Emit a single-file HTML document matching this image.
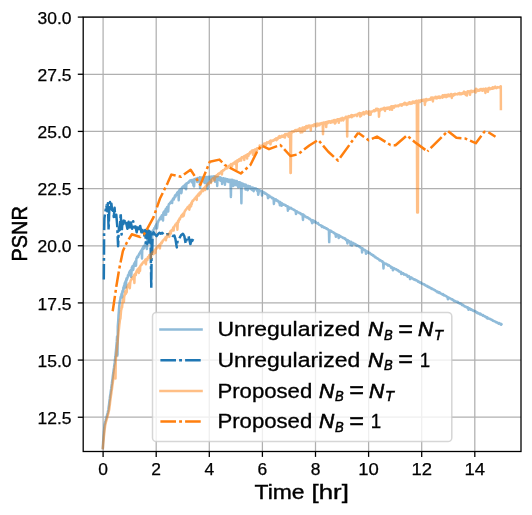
<!DOCTYPE html>
<html><head><meta charset="utf-8"><title>PSNR vs Time</title>
<style>html,body{margin:0;padding:0;background:#fff;}body{width:532px;height:515px;overflow:hidden;font-family:"Liberation Sans",sans-serif;}svg{display:block;will-change:transform;}</style></head>
<body>
<svg width="532" height="515" viewBox="0 0 532 515">
<defs><clipPath id="ax"><rect x="83.2" y="17.1" width="437.8" height="434.4"/></clipPath></defs>
<g stroke="#b0b0b0" stroke-width="1.25" fill="none">
<line x1="103.10" y1="17.1" x2="103.10" y2="451.55"/>
<line x1="156.20" y1="17.1" x2="156.20" y2="451.55"/>
<line x1="209.30" y1="17.1" x2="209.30" y2="451.55"/>
<line x1="262.40" y1="17.1" x2="262.40" y2="451.55"/>
<line x1="315.50" y1="17.1" x2="315.50" y2="451.55"/>
<line x1="368.60" y1="17.1" x2="368.60" y2="451.55"/>
<line x1="421.70" y1="17.1" x2="421.70" y2="451.55"/>
<line x1="474.80" y1="17.1" x2="474.80" y2="451.55"/>
<line x1="83.2" y1="417.24" x2="521.0" y2="417.24"/>
<line x1="83.2" y1="360.07" x2="521.0" y2="360.07"/>
<line x1="83.2" y1="302.91" x2="521.0" y2="302.91"/>
<line x1="83.2" y1="245.75" x2="521.0" y2="245.75"/>
<line x1="83.2" y1="188.59" x2="521.0" y2="188.59"/>
<line x1="83.2" y1="131.42" x2="521.0" y2="131.42"/>
<line x1="83.2" y1="74.26" x2="521.0" y2="74.26"/>
<line x1="83.2" y1="17.10" x2="521.0" y2="17.10"/>
</g>
<g clip-path="url(#ax)" fill="none" stroke-linejoin="round">
<polyline points="102.8,448.1 103.1,442.4 103.5,437.3 103.8,432.8 104.2,428.5 104.5,425.3 104.9,423.3 105.2,421.8 105.6,420.5 105.9,419.3 106.3,418.0 106.6,416.7 107.0,415.4 107.3,414.1 107.7,412.8 108.0,411.3 108.4,409.4 108.7,407.0 109.1,404.1 109.4,401.2 109.8,398.5 110.1,396.0 110.5,393.6 110.8,391.1 111.2,388.7 111.5,386.1 111.9,383.5 112.2,380.8 112.6,378.1 112.9,375.4 113.3,372.8 113.6,370.2 114.0,367.7 114.3,365.2 114.7,362.5 115.0,359.6 115.4,356.5 115.7,353.1 116.1,349.5 116.4,345.6 116.8,341.2 117.1,336.4 117.5,355.4 117.8,326.4 118.2,321.1 118.5,315.7 118.9,310.7 119.2,306.5 119.6,303.3 119.9,300.9 120.3,299.6 120.6,297.2 121.0,296.1 121.3,295.0 121.7,293.6 122.0,297.4 122.4,291.2 122.7,290.6 123.1,291.7 123.4,287.4 123.8,288.8 124.1,285.6 124.5,284.3 124.8,283.0 125.2,282.2 125.5,281.3 125.9,287.5 126.2,279.9 126.6,278.4 126.9,279.7 127.3,277.7 127.6,277.9 128.0,275.3 128.3,275.1 128.7,275.4 129.0,273.2 129.4,272.2 129.7,271.5 130.1,270.8 130.4,270.8 130.8,270.0 131.1,276.9 131.5,273.0 131.8,267.7 132.2,267.1 132.5,266.3 132.9,266.0 133.2,269.9 133.6,266.6 133.9,264.3 134.3,265.8 134.6,262.9 135.0,263.4 135.3,261.5 135.7,262.1 136.0,265.8 136.4,258.7 136.7,258.4 137.1,257.2 137.4,256.5 137.8,256.9 138.1,257.0 138.5,255.2 138.8,255.1 139.2,253.9 139.5,253.3 139.9,252.9 140.2,252.4 140.6,251.7 140.9,251.1 141.3,250.8 141.6,250.1 142.0,258.4 142.3,248.8 142.7,248.2 143.0,247.4 143.4,248.9 143.7,246.2 144.1,248.0 144.4,245.8 144.8,246.0 145.1,243.8 145.5,245.3 145.8,242.3 146.2,241.9 146.5,242.2 146.9,249.0 147.2,240.6 147.6,243.1 147.9,239.4 148.3,238.4 148.6,238.3 149.0,237.5 149.3,242.3 149.7,236.7 150.0,236.1 150.4,235.2 150.7,234.5 151.1,233.9 151.4,234.3 151.8,233.0 152.1,238.1 152.5,231.4 152.8,230.6 153.2,231.7 153.5,230.1 153.9,229.2 154.2,228.2 154.6,227.9 154.9,228.4 155.3,226.2 155.6,226.2 156.0,225.1 156.3,224.6 156.7,223.9 157.0,228.4 157.4,225.4 157.7,222.1 158.1,222.1 158.4,220.9 158.8,220.3 159.1,220.0 159.5,219.7 159.8,218.4 160.2,218.1 160.5,217.4 160.9,218.9 161.2,216.6 161.6,216.8 161.9,215.3 162.3,219.4 162.6,217.1 163.0,220.6 163.3,213.0 163.7,212.2 164.0,211.6 164.4,211.7 164.7,214.0 165.1,210.4 165.4,214.8 165.8,209.1 166.1,214.7 166.5,208.3 166.8,208.2 167.2,207.0 167.5,209.7 167.9,211.4 168.2,211.4 168.6,205.1 168.9,204.3 169.3,203.7 169.6,203.9 170.0,203.2 170.3,202.8 170.7,202.1 171.0,202.8 171.4,202.1 171.7,200.7 172.1,203.1 172.4,200.3 172.8,199.4 173.1,198.8 173.5,198.2 173.8,199.6 174.2,197.6 174.5,197.8 174.9,195.9 175.2,195.3 175.6,196.6 175.9,194.5 176.3,194.3 176.6,194.9 177.0,193.6 177.3,192.4 177.7,192.6 178.0,192.1 178.4,191.6 178.7,200.2 179.1,190.6 179.4,190.1 179.8,190.8 180.1,191.7 180.5,188.9 180.8,189.0 181.2,193.2 181.5,192.6 181.9,188.0 182.2,187.4 182.6,187.0 182.9,186.7 183.3,187.3 183.6,186.1 184.0,186.1 184.3,185.8 184.7,187.9 185.0,184.7 185.4,185.0 185.7,187.3 186.1,189.2 186.4,183.5 186.8,183.8 187.1,183.5 187.5,183.0 187.8,182.8 188.2,182.4 188.5,182.6 188.9,182.1 189.2,181.2 189.6,181.4 189.9,180.9 190.3,180.3 190.6,180.8 191.0,181.3 191.3,180.6 191.7,180.1 192.0,181.9 192.4,182.7 192.7,181.2 193.1,179.9 193.4,185.4 193.8,179.6 194.1,186.5 194.5,179.5 194.8,179.3 195.2,178.9 195.5,179.7 195.9,178.8 196.2,180.1 196.6,179.9 196.9,178.6 197.3,182.1 197.6,178.1 198.0,178.8 198.3,178.6 198.7,178.1 199.0,178.3 199.4,180.9 199.7,177.3 200.1,187.9 200.4,179.1 200.8,178.7 201.1,177.4 201.5,178.4 201.8,178.3 202.2,177.8 202.5,177.7 202.9,177.5 203.2,177.8 203.6,177.2 203.9,177.2 204.3,182.6 204.6,179.0 205.0,183.2 205.3,178.9 205.7,177.3 206.0,177.2 206.4,177.2 206.7,177.0 207.1,177.0 207.4,189.0 207.8,177.4 208.1,179.4 208.5,178.0 208.8,176.8 209.2,178.9 209.5,177.7 209.9,178.7 210.2,176.8 210.6,176.7 210.9,182.2 211.3,176.7 211.6,178.8 212.0,176.6 212.3,176.7 212.7,176.7 213.0,176.7 213.4,176.3 213.7,176.6 214.1,176.5 214.4,180.0 214.8,176.5 215.1,181.7 215.5,178.0 215.8,178.7 216.2,177.5 216.5,177.0 216.9,177.0 217.2,186.0 217.6,177.2 217.9,179.5 218.3,179.9 218.6,177.3 219.0,177.5 219.3,177.5 219.7,177.2 220.0,179.0 220.4,180.7 220.7,177.6 221.1,178.2 221.4,178.4 221.8,178.2 222.1,184.0 222.5,179.4 222.8,182.0 223.2,179.2 223.5,178.2 223.9,178.6 224.2,179.1 224.6,179.5 224.9,184.8 225.3,178.7 225.6,178.8 226.0,179.1 226.3,181.2 226.7,179.4 227.0,179.3 227.4,179.2 227.7,179.8 228.1,179.6 228.4,182.1 228.8,180.3 229.1,180.1 229.5,179.8 229.8,179.8 230.2,181.9 230.5,181.3 230.9,196.9 231.2,179.7 231.6,181.2 231.9,180.3 232.3,180.2 232.6,179.9 233.0,180.3 233.3,186.0 233.7,180.7 234.0,181.2 234.4,180.8 234.7,180.6 235.1,181.0 235.4,185.1 235.8,181.5 236.1,181.7 236.5,185.3 236.8,181.1 237.2,184.3 237.5,182.6 237.9,182.1 238.2,187.3 238.6,183.3 238.9,182.2 239.3,182.3 239.6,182.4 240.0,187.0 240.3,182.5 240.7,183.6 241.0,183.1 241.4,203.3 241.7,184.6 242.1,186.8 242.4,183.6 242.8,186.5 243.1,184.2 243.5,184.1 243.8,184.7 244.2,184.6 244.5,184.4 244.9,184.6 245.2,185.2 245.6,189.6 245.9,184.8 246.3,186.4 246.6,185.7 247.0,186.0 247.3,188.8 247.7,190.1 248.0,185.8 248.4,186.8 248.7,186.3 249.1,186.9 249.4,186.4 249.8,186.7 250.1,186.4 250.5,189.1 250.8,187.3 251.2,189.0 251.5,187.6 251.9,188.3 252.2,190.0 252.6,187.6 252.9,187.7 253.3,187.9 253.6,191.2 254.0,189.5 254.3,188.2 254.7,188.2 255.0,188.3 255.4,188.7 255.7,189.1 256.1,188.6 256.4,189.1 256.8,189.1 257.1,190.8 257.5,189.7 257.8,189.5 258.2,194.8 258.5,193.6 258.9,190.2 259.2,190.2 259.6,190.2 259.9,190.7 260.3,190.7 260.6,191.1 261.0,191.1 261.3,191.0 261.7,191.4 262.0,195.6 262.4,192.0 262.7,191.8 263.1,192.2 263.4,192.0 263.8,192.8 264.1,192.5 264.5,192.5 264.8,193.2 265.2,193.7 265.5,193.2 265.9,193.6 266.2,193.9 266.6,194.0 266.9,194.6 267.3,194.7 267.6,194.8 268.0,198.2 268.3,195.2 268.7,195.7 269.0,195.6 269.4,195.7 269.7,197.0 270.1,197.0 270.4,196.6 270.8,197.0 271.1,197.2 271.5,197.4 271.8,197.6 272.2,198.3 272.5,197.8 272.9,197.9 273.2,198.2 273.6,198.4 273.9,203.9 274.3,199.3 274.6,199.7 275.0,199.2 275.3,199.6 275.7,200.3 276.0,199.4 276.4,200.5 276.7,200.3 277.1,201.0 277.4,200.7 277.8,201.1 278.1,200.9 278.5,201.3 278.8,202.3 279.2,202.1 279.5,202.0 279.9,205.3 280.2,202.0 280.6,202.6 280.9,202.9 281.3,203.1 281.6,205.8 282.0,203.2 282.3,203.6 282.7,203.8 283.0,204.4 283.4,204.7 283.7,204.4 284.1,204.4 284.4,204.8 284.8,204.8 285.1,205.0 285.5,205.7 285.8,205.3 286.2,205.9 286.5,205.9 286.9,206.2 287.2,206.3 287.6,206.3 287.9,210.7 288.3,206.8 288.6,207.0 289.0,207.3 289.3,207.5 289.7,208.6 290.0,207.9 290.4,207.7 290.7,208.1 291.1,208.3 291.4,208.1 291.8,208.8 292.1,209.0 292.5,209.1 292.8,209.3 293.2,209.5 293.5,209.5 293.9,209.9 294.2,210.0 294.6,210.4 294.9,210.2 295.3,210.8 295.6,210.9 296.0,214.1 296.3,211.2 296.7,211.6 297.0,211.3 297.4,212.0 297.7,212.1 298.1,212.3 298.4,212.5 298.8,212.5 299.1,212.8 299.5,213.2 299.8,213.3 300.2,213.5 300.5,213.2 300.9,214.0 301.2,214.3 301.6,214.5 301.9,214.5 302.3,214.2 302.6,215.1 303.0,220.0 303.3,214.6 303.7,215.5 304.0,215.2 304.4,215.5 304.7,216.4 305.1,216.5 305.4,216.3 305.8,216.7 306.1,217.2 306.5,217.4 306.8,217.2 307.2,217.4 307.5,217.3 307.9,217.6 308.2,218.1 308.6,218.3 308.9,218.4 309.3,218.9 309.6,218.6 310.0,219.0 310.3,219.4 310.7,219.7 311.0,219.9 311.4,221.0 311.7,220.0 312.1,223.2 312.4,220.2 312.8,220.2 313.1,221.2 313.5,221.0 313.8,222.3 314.2,221.0 314.5,221.6 314.9,221.7 315.2,221.8 315.6,221.7 315.9,222.4 316.3,222.9 316.6,223.0 317.0,222.9 317.3,223.3 317.7,223.7 318.0,223.0 318.4,223.9 318.7,224.2 319.1,224.5 319.4,224.9 319.8,225.0 320.1,225.0 320.5,225.2 320.8,225.5 321.2,225.4 321.5,225.7 321.9,227.0 322.2,226.6 322.6,226.3 322.9,226.5 323.3,226.8 323.6,227.3 324.0,227.8 324.3,227.7 324.7,227.3 325.0,227.7 325.4,227.9 325.7,228.3 326.1,228.6 326.4,228.2 326.8,228.5 327.1,229.0 327.5,229.0 327.8,229.0 328.2,229.8 328.5,229.9 328.9,230.1 329.2,242.1 329.6,230.6 329.9,230.5 330.3,231.0 330.6,230.7 331.0,230.9 331.3,231.4 331.7,231.3 332.0,231.9 332.4,232.0 332.7,231.9 333.1,232.3 333.4,232.4 333.8,232.9 334.1,232.7 334.5,233.0 334.8,233.6 335.2,234.0 335.5,234.2 335.9,236.8 336.2,234.1 336.6,234.6 336.9,234.4 337.3,234.4 337.6,234.8 338.0,235.1 338.3,235.0 338.7,238.0 339.0,235.2 339.4,235.9 339.7,235.8 340.1,236.1 340.4,236.4 340.8,236.7 341.1,236.6 341.5,237.0 341.8,236.9 342.2,237.2 342.5,237.2 342.9,237.9 343.2,237.8 343.6,237.9 343.9,238.1 344.3,238.4 344.6,238.8 345.0,238.4 345.3,238.7 345.7,239.1 346.0,240.0 346.4,239.8 346.7,239.7 347.1,240.1 347.4,243.5 347.8,240.3 348.1,240.4 348.5,241.0 348.8,241.0 349.2,241.3 349.5,241.2 349.9,242.0 350.2,242.1 350.6,245.0 350.9,242.2 351.3,241.8 351.6,242.6 352.0,245.6 352.3,242.9 352.7,243.2 353.0,243.1 353.4,243.0 353.7,243.7 354.1,243.7 354.4,243.9 354.8,244.1 355.1,244.3 355.5,244.0 355.8,245.1 356.2,245.1 356.5,245.5 356.9,245.9 357.2,245.6 357.6,245.4 357.9,245.8 358.3,245.9 358.6,246.3 359.0,246.6 359.3,246.3 359.7,247.1 360.0,246.8 360.4,247.5 360.7,247.6 361.1,247.8 361.4,248.0 361.8,248.1 362.1,252.5 362.5,248.2 362.8,248.9 363.2,249.5 363.5,249.8 363.9,249.8 364.2,249.9 364.6,249.8 364.9,250.5 365.3,250.3 365.6,250.6 366.0,253.8 366.3,251.0 366.7,251.1 367.0,251.4 367.4,251.4 367.7,251.8 368.1,252.7 368.4,252.3 368.8,252.5 369.1,252.9 369.5,253.2 369.8,252.9 370.2,253.4 370.5,253.9 370.9,254.0 371.2,254.2 371.6,254.8 371.9,254.5 372.3,254.9 372.6,255.0 373.0,255.8 373.3,255.2 373.7,255.8 374.0,256.0 374.4,256.6 374.7,256.8 375.1,257.3 375.4,256.8 375.8,257.6 376.1,257.6 376.5,257.8 376.8,258.3 377.2,258.2 377.5,258.2 377.9,258.8 378.2,258.8 378.6,259.2 378.9,259.7 379.3,259.9 379.6,260.5 380.0,260.3 380.3,260.1 380.7,260.5 381.0,260.7 381.4,260.9 381.7,261.5 382.1,261.4 382.4,261.3 382.8,262.2 383.1,262.2 383.5,268.5 383.8,262.7 384.2,263.0 384.5,263.1 384.9,263.6 385.2,263.6 385.6,263.8 385.9,264.0 386.3,263.8 386.6,264.3 387.0,264.5 387.3,264.8 387.7,264.6 388.0,265.5 388.4,265.4 388.7,265.2 389.1,265.3 389.4,265.9 389.8,266.1 390.1,266.2 390.5,266.6 390.8,266.6 391.2,267.7 391.5,267.0 391.9,267.3 392.2,267.8 392.6,268.4 392.9,270.2 393.3,268.0 393.6,268.1 394.0,268.7 394.3,268.4 394.7,268.8 395.0,269.1 395.4,269.0 395.7,269.2 396.1,269.5 396.4,269.3 396.8,269.7 397.1,270.1 397.5,270.4 397.8,270.5 398.2,270.3 398.5,270.9 398.9,271.4 399.2,271.5 399.6,271.5 399.9,271.5 400.3,272.1 400.6,271.9 401.0,272.0 401.3,274.0 401.7,273.0 402.0,272.9 402.4,273.3 402.7,273.1 403.1,273.6 403.4,273.4 403.8,273.7 404.1,274.6 404.5,274.3 404.8,274.2 405.2,274.5 405.5,274.8 405.9,275.2 406.2,274.9 406.6,274.8 406.9,275.3 407.3,275.6 407.6,276.7 408.0,276.3 408.3,276.2 408.7,276.5 409.0,276.2 409.4,276.9 409.7,277.4 410.1,279.1 410.4,278.9 410.8,277.5 411.1,278.1 411.5,277.6 411.8,278.0 412.2,278.3 412.5,278.5 412.9,278.4 413.2,278.8 413.6,279.5 413.9,279.1 414.3,279.2 414.6,279.8 415.0,279.6 415.3,280.0 415.7,279.8 416.0,280.1 416.4,280.5 416.7,280.3 417.1,280.8 417.4,280.7 417.8,281.4 418.1,281.9 418.5,282.0 418.8,281.6 419.2,282.0 419.5,282.1 419.9,282.3 420.2,282.8 420.6,282.3 420.9,283.1 421.3,283.0 421.6,283.5 422.0,283.4 422.3,283.4 422.7,283.8 423.0,284.1 423.4,284.1 423.7,284.4 424.1,284.4 424.4,284.2 424.8,285.1 425.1,285.2 425.5,285.3 425.8,285.5 426.2,285.9 426.5,285.7 426.9,285.8 427.2,286.2 427.6,286.7 427.9,286.2 428.3,287.1 428.6,286.8 429.0,286.9 429.3,287.6 429.7,287.5 430.0,287.5 430.4,287.8 430.7,288.3 431.1,288.6 431.4,288.3 431.8,288.7 432.1,289.0 432.5,288.8 432.8,289.3 433.2,289.4 433.5,289.4 433.9,289.6 434.2,290.0 434.6,290.1 434.9,290.2 435.3,290.4 435.6,291.0 436.0,290.9 436.3,291.3 436.7,291.5 437.0,291.6 437.4,292.2 437.7,291.6 438.1,292.2 438.4,292.1 438.8,292.8 439.1,293.0 439.5,292.2 439.8,292.8 440.2,293.3 440.5,293.5 440.9,293.7 441.2,293.6 441.6,294.0 441.9,294.2 442.3,294.2 442.6,294.7 443.0,294.0 443.3,294.9 443.7,294.7 444.0,295.4 444.4,295.3 444.7,295.3 445.1,295.8 445.4,295.7 445.8,295.9 446.1,295.9 446.5,296.5 446.8,296.8 447.2,297.1 447.5,297.0 447.9,299.2 448.2,297.4 448.6,297.6 448.9,297.9 449.3,298.2 449.6,298.1 450.0,298.3 450.3,298.5 450.7,298.7 451.0,298.7 451.4,299.3 451.7,299.2 452.1,299.6 452.4,299.4 452.8,299.9 453.1,300.1 453.5,300.1 453.8,300.9 454.2,300.7 454.5,301.2 454.9,301.2 455.2,301.0 455.6,301.2 455.9,301.6 456.3,301.7 456.6,301.9 457.0,302.0 457.3,301.8 457.7,302.4 458.0,302.0 458.4,302.9 458.7,302.8 459.1,303.0 459.4,303.3 459.8,303.6 460.1,303.4 460.5,303.5 460.8,303.8 461.2,303.8 461.5,304.2 461.9,305.0 462.2,304.6 462.6,305.2 462.9,304.8 463.3,305.4 463.6,305.5 464.0,305.7 464.3,306.1 464.7,306.5 465.0,306.3 465.4,306.5 465.7,306.4 466.1,307.0 466.4,307.0 466.8,307.4 467.1,307.4 467.5,308.0 467.8,307.3 468.2,307.9 468.5,309.7 468.9,308.2 469.2,308.3 469.6,308.6 469.9,308.5 470.3,309.1 470.6,309.8 471.0,309.7 471.3,309.3 471.7,309.5 472.0,309.8 472.4,310.4 472.7,310.1 473.1,310.3 473.4,310.9 473.8,311.1 474.1,310.9 474.5,310.9 474.8,311.0 475.2,311.4 475.5,311.2 475.9,312.1 476.2,311.9 476.6,312.4 476.9,312.9 477.3,312.9 477.6,312.5 478.0,313.2 478.3,313.5 478.7,313.2 479.0,313.7 479.4,313.7 479.7,313.5 480.1,314.4 480.4,313.6 480.8,314.1 481.1,314.5 481.5,314.7 481.8,315.0 482.2,315.2 482.5,315.2 482.9,315.8 483.2,315.1 483.6,315.8 483.9,315.8 484.3,316.2 484.6,316.4 485.0,316.3 485.3,316.5 485.7,317.1 486.0,317.1 486.4,317.1 486.7,317.9 487.1,318.2 487.4,317.4 487.8,318.0 488.1,318.7 488.5,318.5 488.8,318.5 489.2,318.6 489.5,318.7 489.9,318.9 490.2,319.0 490.6,319.5 490.9,319.4 491.3,319.6 491.6,319.6 492.0,320.0 492.3,320.0 492.7,320.3 493.0,320.8 493.4,320.8 493.7,321.0 494.1,321.2 494.4,321.3 494.8,321.5 495.1,321.5 495.5,321.9 495.8,321.7 496.2,322.4 496.5,322.3 496.9,322.3 497.2,322.5 497.6,322.6 497.9,323.0 498.3,323.0 498.6,323.6 499.0,323.3 499.3,323.1 499.7,323.6 500.0,323.5 500.4,324.2 500.7,324.6 501.1,324.7 501.4,324.3" stroke="#1f77b4" stroke-opacity="0.5" stroke-width="2.5" stroke-linecap="square"/>
<polyline points="103.8,279.5 104.0,255.0 104.1,233.5 104.4,218.3 105.2,212.5 106.4,205.5 107.2,211.3 107.9,203.2 108.6,230.0 109.3,209.0 110.0,202.0 110.7,209.0 111.4,203.7 112.1,210.2 112.8,207.2 113.8,217.1 114.6,207.8 115.4,219.5 116.3,214.8 117.2,225.3 118.1,246.3 118.9,227.6 119.8,230.0 120.7,213.1 121.6,234.6 122.4,221.8 123.3,224.1 124.2,218.3 125.1,225.3 126.2,223.0 127.4,228.8 128.6,221.8 129.7,230.0 130.9,222.4 132.1,228.8 133.2,221.2 134.4,227.6 135.5,226.5 136.7,232.3 137.9,225.3 139.0,231.1 140.2,225.9 141.4,232.3 142.5,230.0 143.4,233.5 144.0,232.0 144.6,238.0 145.2,230.0 145.9,243.0 146.6,231.0 147.3,244.0 148.0,230.5 148.7,244.0 149.4,231.0 150.0,243.0 150.5,232.0 150.9,262.0 151.3,288.3 151.7,240.0 152.2,252.0 152.7,233.0" stroke="#1f77b4" stroke-width="2.5" stroke-dasharray="15.6,3.1,2.9,3.1"/>
<polyline points="152.8,231.4 153.8,232.8 155.2,234.7 156.6,236.1 158.0,234.2 159.4,232.8 160.8,233.7 162.2,232.8 164.1,234.7 166.4,234.2 168.8,234.2 171.1,234.7 173.0,236.1 174.4,235.6 175.4,238.9 176.8,247.4 177.7,239.9 179.1,238.9 181.0,235.2 182.9,233.7 184.3,236.1 185.7,243.6 187.1,238.0 188.5,236.1 190.4,244.1 191.4,239.9 192.3,240.8 193.7,237.5" stroke="#1f77b4" stroke-width="2.5" stroke-dasharray="15.6,3.1,2.9,3.1"/>
<polyline points="102.9,448.1 103.2,444.0 103.6,440.1 103.9,436.5 104.3,433.1 104.6,429.8 105.0,426.9 105.3,424.7 105.7,423.1 106.0,421.7 106.4,420.5 106.7,419.3 107.1,418.0 107.4,416.7 107.8,415.4 108.1,414.2 108.5,412.8 108.8,411.3 109.2,409.4 109.5,407.0 109.9,404.1 110.2,401.2 110.6,398.5 110.9,396.0 111.3,393.6 111.6,391.1 112.0,388.7 112.3,386.1 112.7,383.5 113.0,380.8 113.4,378.1 113.7,375.4 114.1,372.8 114.4,370.2 114.8,367.7 115.1,365.2 115.5,378.5 115.8,359.6 116.2,356.3 116.5,352.7 116.9,349.1 117.2,345.5 117.6,341.9 117.9,338.3 118.3,334.7 118.6,331.3 119.0,328.3 119.3,325.2 119.7,322.2 120.0,319.3 120.4,318.8 120.7,314.8 121.1,310.5 121.4,309.2 121.8,306.4 122.1,307.3 122.5,302.4 122.8,300.7 123.2,300.2 123.5,298.4 123.9,302.0 124.2,296.0 124.6,295.8 124.9,294.1 125.3,292.1 125.6,290.8 126.0,293.7 126.3,291.2 126.7,292.3 127.0,287.2 127.4,287.2 127.7,286.8 128.1,285.0 128.4,286.3 128.8,284.0 129.1,284.2 129.5,283.0 129.8,288.2 130.2,283.1 130.5,281.2 130.9,280.2 131.2,280.1 131.6,279.2 131.9,278.2 132.3,278.8 132.6,277.6 133.0,277.0 133.3,278.8 133.7,278.0 134.0,275.2 134.4,283.0 134.7,274.3 135.1,273.9 135.4,273.6 135.8,275.1 136.1,272.3 136.5,272.6 136.8,270.7 137.2,270.5 137.5,269.6 137.9,269.7 138.2,269.0 138.6,268.4 138.9,272.9 139.3,267.5 139.6,268.7 140.0,270.8 140.3,266.0 140.7,265.3 141.0,265.4 141.4,264.9 141.7,264.0 142.1,264.1 142.4,263.2 142.8,262.8 143.1,262.5 143.5,261.8 143.8,261.5 144.2,262.5 144.5,261.2 144.9,260.8 145.2,259.9 145.6,260.1 145.9,264.3 146.3,259.1 146.6,258.9 147.0,259.9 147.3,260.2 147.7,258.3 148.0,256.9 148.4,257.3 148.7,257.7 149.1,256.6 149.4,254.9 149.8,255.8 150.1,255.3 150.5,255.0 150.8,258.4 151.2,254.5 151.5,253.6 151.9,253.6 152.2,253.6 152.6,252.4 152.9,252.5 153.3,251.9 153.6,254.2 154.0,251.2 154.3,251.6 154.7,250.0 155.0,250.0 155.4,252.9 155.7,248.7 156.1,248.4 156.4,249.0 156.8,247.5 157.1,247.7 157.5,247.5 157.8,247.0 158.2,246.0 158.5,245.9 158.9,245.7 159.2,245.4 159.6,244.6 159.9,248.4 160.3,244.3 160.6,243.9 161.0,243.3 161.3,242.6 161.7,243.3 162.0,242.0 162.4,241.8 162.7,240.7 163.1,240.7 163.4,240.2 163.8,239.5 164.1,239.5 164.5,239.0 164.8,238.5 165.2,238.3 165.5,237.3 165.9,240.3 166.2,237.0 166.6,238.1 166.9,236.4 167.3,235.3 167.6,234.7 168.0,234.9 168.3,236.5 168.7,234.5 169.0,233.6 169.4,236.7 169.7,232.8 170.1,232.6 170.4,231.2 170.8,233.5 171.1,230.8 171.5,230.5 171.8,230.0 172.2,229.9 172.5,230.5 172.9,229.3 173.2,227.6 173.6,230.6 173.9,227.8 174.3,226.8 174.6,226.0 175.0,225.5 175.3,224.9 175.7,224.2 176.0,224.3 176.4,223.6 176.7,223.0 177.1,222.7 177.4,229.8 177.8,222.5 178.1,221.0 178.5,222.1 178.8,219.9 179.2,220.1 179.5,218.6 179.9,219.2 180.2,218.0 180.6,217.5 180.9,216.9 181.3,215.8 181.6,215.9 182.0,214.9 182.3,214.6 182.7,216.5 183.0,213.8 183.4,213.7 183.7,215.8 184.1,213.7 184.4,212.2 184.8,211.2 185.1,210.8 185.5,210.2 185.8,209.9 186.2,209.3 186.5,208.9 186.9,208.6 187.2,207.9 187.6,207.3 187.9,206.9 188.3,206.9 188.6,206.4 189.0,207.4 189.3,209.7 189.7,204.9 190.0,207.5 190.4,205.3 190.7,204.4 191.1,206.2 191.4,202.7 191.8,204.1 192.1,202.0 192.5,200.9 192.8,201.2 193.2,200.8 193.5,200.2 193.9,199.6 194.2,199.6 194.6,198.6 194.9,198.6 195.3,198.5 195.6,197.4 196.0,197.4 196.3,196.6 196.7,199.9 197.0,195.9 197.4,196.3 197.7,194.9 198.1,195.1 198.4,194.1 198.8,193.7 199.1,195.5 199.5,194.0 199.8,192.5 200.2,192.9 200.5,193.7 200.9,191.8 201.2,191.5 201.6,191.2 201.9,190.1 202.3,190.7 202.6,190.0 203.0,191.1 203.3,188.7 203.7,188.2 204.0,188.1 204.4,188.1 204.7,187.4 205.1,190.1 205.4,186.6 205.8,186.8 206.1,185.9 206.5,185.4 206.8,185.6 207.2,184.9 207.5,184.4 207.9,183.8 208.2,183.2 208.6,183.9 208.9,182.7 209.3,183.2 209.6,182.2 210.0,181.9 210.3,182.7 210.7,181.1 211.0,182.9 211.4,179.7 211.7,179.8 212.1,179.3 212.4,179.1 212.8,180.7 213.1,178.2 213.5,177.9 213.8,177.9 214.2,177.7 214.5,180.3 214.9,177.1 215.2,176.6 215.6,176.1 215.9,176.1 216.3,176.4 216.6,175.3 217.0,175.6 217.3,175.3 217.7,176.2 218.0,174.1 218.4,174.7 218.7,174.1 219.1,173.4 219.4,173.6 219.8,173.1 220.1,172.7 220.5,172.4 220.8,172.5 221.2,171.7 221.5,171.3 221.9,174.4 222.2,171.3 222.6,171.2 222.9,170.3 223.3,170.6 223.6,170.2 224.0,170.3 224.3,169.7 224.7,169.4 225.0,168.9 225.4,168.3 225.7,168.3 226.1,168.6 226.4,167.9 226.8,167.5 227.1,167.8 227.5,168.2 227.8,167.3 228.2,166.5 228.5,166.5 228.9,166.6 229.2,165.8 229.6,165.5 229.9,165.8 230.3,165.7 230.6,164.7 231.0,164.0 231.3,164.1 231.7,165.0 232.0,166.4 232.4,164.0 232.7,164.5 233.1,163.2 233.4,163.2 233.8,162.9 234.1,162.7 234.5,162.3 234.8,163.0 235.2,164.0 235.5,161.5 235.9,161.2 236.2,161.2 236.6,169.1 236.9,160.6 237.3,160.4 237.6,160.7 238.0,161.7 238.3,160.1 238.7,160.0 239.0,159.2 239.4,160.8 239.7,159.0 240.1,159.2 240.4,158.5 240.8,158.8 241.1,160.5 241.5,158.1 241.8,157.3 242.2,157.2 242.5,157.6 242.9,157.6 243.2,157.0 243.6,157.0 243.9,156.4 244.3,160.0 244.6,155.9 245.0,156.2 245.3,155.8 245.7,155.4 246.0,155.2 246.4,155.2 246.7,154.9 247.1,158.6 247.4,154.9 247.8,154.3 248.1,154.0 248.5,155.7 248.8,153.9 249.2,153.3 249.5,153.3 249.9,153.6 250.2,152.0 250.6,152.1 250.9,152.4 251.3,151.7 251.6,150.9 252.0,150.6 252.3,150.6 252.7,151.6 253.0,154.8 253.4,150.2 253.7,151.5 254.1,152.8 254.4,150.3 254.8,149.6 255.1,150.1 255.5,150.9 255.8,149.3 256.2,149.3 256.5,148.9 256.9,151.7 257.2,148.2 257.6,148.3 257.9,148.4 258.3,148.0 258.6,148.0 259.0,148.5 259.3,148.2 259.7,145.6 260.0,146.9 260.4,146.6 260.7,148.2 261.1,146.7 261.4,146.7 261.8,146.7 262.1,145.9 262.5,145.3 262.8,145.3 263.2,146.0 263.5,145.5 263.9,144.4 264.2,143.5 264.6,144.2 264.9,145.0 265.3,143.8 265.6,144.1 266.0,145.1 266.3,142.9 266.7,143.4 267.0,142.4 267.4,142.6 267.7,143.1 268.1,142.2 268.4,142.7 268.8,142.3 269.1,142.5 269.5,142.3 269.8,141.0 270.2,143.2 270.5,144.4 270.9,140.6 271.2,141.0 271.6,141.1 271.9,141.2 272.3,140.6 272.6,140.5 273.0,140.3 273.3,140.8 273.7,140.1 274.0,140.4 274.4,139.9 274.7,139.6 275.1,139.0 275.4,139.7 275.8,138.7 276.1,138.3 276.5,140.2 276.8,139.3 277.2,138.9 277.5,139.3 277.9,137.7 278.2,137.5 278.6,138.0 278.9,136.4 279.3,137.4 279.6,136.1 280.0,137.8 280.3,137.3 280.7,137.3 281.0,136.8 281.4,136.4 281.7,135.8 282.1,136.6 282.4,136.4 282.8,136.7 283.1,135.8 283.5,135.4 283.8,136.9 284.2,136.1 284.5,135.8 284.9,137.6 285.2,134.1 285.6,135.5 285.9,134.6 286.3,135.1 286.6,134.2 287.0,133.8 287.3,134.7 287.7,134.5 288.0,133.7 288.4,136.7 288.7,136.7 289.1,133.0 289.4,132.8 289.8,133.1 290.1,132.9 290.5,173.0 290.8,172.9 291.2,132.5 291.5,133.0 291.9,131.6 292.2,132.5 292.6,132.0 292.9,131.9 293.3,131.3 293.6,131.8 294.0,131.6 294.3,131.4 294.7,131.0 295.0,130.4 295.4,130.9 295.7,130.1 296.1,130.8 296.4,131.1 296.8,130.4 297.1,129.9 297.5,130.8 297.8,129.7 298.2,130.6 298.5,129.6 298.9,129.2 299.2,129.5 299.6,128.4 299.9,129.0 300.3,128.6 300.6,132.6 301.0,129.1 301.3,128.7 301.7,129.8 302.0,129.5 302.4,132.2 302.7,127.4 303.1,128.1 303.4,128.6 303.8,128.1 304.1,129.3 304.5,127.3 304.8,130.6 305.2,127.9 305.5,128.0 305.9,126.6 306.2,126.1 306.6,128.3 306.9,127.8 307.3,126.0 307.6,127.9 308.0,127.3 308.3,126.5 308.7,127.2 309.0,125.5 309.4,126.4 309.7,126.6 310.1,125.7 310.4,125.8 310.8,130.3 311.1,126.2 311.5,125.7 311.8,125.9 312.2,125.4 312.5,125.2 312.9,125.7 313.2,125.2 313.6,126.1 313.9,125.3 314.3,124.3 314.6,125.1 315.0,124.6 315.3,124.6 315.7,124.6 316.0,124.7 316.4,126.2 316.7,124.4 317.1,123.6 317.4,124.4 317.8,125.5 318.1,124.3 318.5,123.9 318.8,124.1 319.2,123.9 319.5,125.3 319.9,124.5 320.2,123.6 320.6,124.1 320.9,123.7 321.3,123.1 321.6,123.7 322.0,123.4 322.3,124.1 322.7,123.5 323.0,134.1 323.4,122.5 323.7,122.9 324.1,123.7 324.4,122.6 324.8,123.0 325.1,122.9 325.5,122.2 325.8,123.3 326.2,127.1 326.5,122.5 326.9,122.9 327.2,121.7 327.6,123.3 327.9,122.8 328.3,121.5 328.6,122.1 329.0,121.3 329.3,122.0 329.7,121.3 330.0,122.5 330.4,121.9 330.7,122.8 331.1,121.4 331.4,121.0 331.8,121.1 332.1,121.8 332.5,120.7 332.8,122.2 333.2,121.0 333.5,120.7 333.9,121.6 334.2,119.9 334.6,121.2 334.9,123.5 335.3,120.8 335.6,122.8 336.0,120.0 336.3,121.2 336.7,120.1 337.0,120.0 337.4,119.4 337.7,120.4 338.1,119.2 338.4,119.3 338.8,122.8 339.1,119.3 339.5,120.4 339.8,119.8 340.2,118.9 340.5,118.6 340.9,118.9 341.2,120.6 341.6,119.4 341.9,118.5 342.3,117.8 342.6,119.5 343.0,118.6 343.3,120.4 343.7,119.1 344.0,118.7 344.4,118.5 344.7,117.8 345.1,118.1 345.4,117.5 345.8,116.7 346.1,117.4 346.5,118.1 346.8,117.3 347.2,136.4 347.5,116.7 347.9,117.4 348.2,117.1 348.6,116.4 348.9,116.0 349.3,117.1 349.6,116.5 350.0,116.7 350.3,116.3 350.7,116.5 351.0,115.6 351.4,115.1 351.7,117.3 352.1,115.8 352.4,116.5 352.8,115.4 353.1,115.5 353.5,116.1 353.8,116.1 354.2,115.3 354.5,115.4 354.9,115.2 355.2,114.9 355.6,115.2 355.9,115.1 356.3,114.9 356.6,115.1 357.0,116.1 357.3,114.2 357.7,114.3 358.0,113.7 358.4,114.1 358.7,114.0 359.1,113.8 359.4,113.0 359.8,115.0 360.1,116.6 360.5,113.2 360.8,113.4 361.2,115.7 361.5,115.1 361.9,113.3 362.2,113.4 362.6,112.7 362.9,112.9 363.3,113.0 363.6,112.1 364.0,114.4 364.3,113.0 364.7,112.7 365.0,112.6 365.4,113.4 365.7,112.1 366.1,112.1 366.4,111.3 366.8,111.9 367.1,113.3 367.5,113.5 367.8,112.3 368.2,112.1 368.5,113.3 368.9,111.5 369.2,114.8 369.6,114.4 369.9,111.6 370.3,112.2 370.6,114.8 371.0,112.0 371.3,111.7 371.7,111.4 372.0,111.4 372.4,111.6 372.7,111.3 373.1,111.1 373.4,111.1 373.8,110.3 374.1,110.4 374.5,111.3 374.8,110.5 375.2,110.8 375.5,109.7 375.9,110.5 376.2,108.7 376.6,109.8 376.9,110.1 377.3,109.1 377.6,108.9 378.0,110.4 378.3,109.7 378.7,109.4 379.0,116.7 379.4,110.6 379.7,111.2 380.1,109.4 380.4,110.2 380.8,109.2 381.1,108.9 381.5,109.4 381.8,109.1 382.2,108.8 382.5,109.1 382.9,108.6 383.2,109.2 383.6,108.9 383.9,107.9 384.3,107.8 384.6,108.7 385.0,110.9 385.3,108.6 385.7,108.4 386.0,108.7 386.4,107.9 386.7,108.7 387.1,108.5 387.4,108.1 387.8,108.7 388.1,107.6 388.5,107.7 388.8,107.8 389.2,107.4 389.5,108.1 389.9,109.6 390.2,107.4 390.6,108.4 390.9,108.6 391.3,106.3 391.6,107.7 392.0,109.8 392.3,107.0 392.7,106.2 393.0,107.0 393.4,106.9 393.7,106.8 394.1,107.6 394.4,106.1 394.8,106.4 395.1,105.7 395.5,106.2 395.8,105.6 396.2,106.3 396.5,106.0 396.9,106.1 397.2,105.8 397.6,105.8 397.9,105.6 398.3,106.3 398.6,105.5 399.0,105.6 399.3,105.2 399.7,105.0 400.0,104.6 400.4,105.1 400.7,104.9 401.1,104.4 401.4,104.8 401.8,105.6 402.1,104.4 402.5,104.3 402.8,104.8 403.2,104.1 403.5,104.0 403.9,103.3 404.2,103.6 404.6,102.9 404.9,104.4 405.3,103.0 405.6,103.8 406.0,104.3 406.3,103.6 406.7,104.9 407.0,103.8 407.4,103.9 407.7,104.5 408.1,103.6 408.4,102.9 408.8,103.3 409.1,103.2 409.5,102.3 409.8,102.4 410.2,103.9 410.5,102.6 410.9,102.7 411.2,102.7 411.6,102.7 411.9,103.6 412.3,102.3 412.6,101.6 413.0,101.5 413.3,101.6 413.7,102.4 414.0,102.9 414.4,102.2 414.7,102.9 415.1,102.3 415.4,101.3 415.8,101.7 416.1,101.7 416.5,100.7 416.8,101.8 417.2,212.5 417.5,101.4 417.9,212.4 418.2,100.8 418.6,100.6 418.9,101.2 419.3,100.6 419.6,101.5 420.0,102.0 420.3,101.3 420.7,100.4 421.0,100.7 421.4,100.7 421.7,100.1 422.1,100.2 422.4,100.8 422.8,100.6 423.1,99.9 423.5,100.6 423.8,99.7 424.2,100.7 424.5,99.7 424.9,105.0 425.2,99.7 425.6,101.8 425.9,99.4 426.3,99.0 426.6,100.2 427.0,100.2 427.3,100.3 427.7,100.3 428.0,99.5 428.4,99.5 428.7,99.6 429.1,99.8 429.4,99.4 429.8,99.1 430.1,98.9 430.5,98.7 430.8,99.6 431.2,97.6 431.5,98.8 431.9,98.5 432.2,98.8 432.6,97.6 432.9,101.4 433.3,97.7 433.6,98.4 434.0,97.9 434.3,97.8 434.7,97.9 435.0,97.5 435.4,96.9 435.7,97.8 436.1,98.4 436.4,98.1 436.8,97.0 437.1,98.3 437.5,97.2 437.8,97.4 438.2,96.8 438.5,97.1 438.9,97.7 439.2,96.4 439.6,96.7 439.9,98.0 440.3,97.0 440.6,97.1 441.0,96.7 441.3,96.7 441.7,97.3 442.0,97.0 442.4,97.7 442.7,95.3 443.1,96.7 443.4,96.7 443.8,97.0 444.1,96.8 444.5,95.1 444.8,96.2 445.2,95.8 445.5,95.1 445.9,96.3 446.2,97.1 446.6,96.6 446.9,96.3 447.3,94.9 447.6,96.6 448.0,95.7 448.3,96.0 448.7,94.6 449.0,95.8 449.4,95.9 449.7,96.2 450.1,95.2 450.4,94.5 450.8,95.6 451.1,94.1 451.5,95.8 451.8,97.9 452.2,94.6 452.5,94.7 452.9,95.3 453.2,95.8 453.6,94.2 453.9,94.4 454.3,94.8 454.6,94.9 455.0,93.7 455.3,94.3 455.7,94.1 456.0,94.3 456.4,94.3 456.7,94.2 457.1,94.0 457.4,94.3 457.8,93.7 458.1,93.7 458.5,93.9 458.8,93.3 459.2,94.3 459.5,93.0 459.9,94.1 460.2,93.6 460.6,94.2 460.9,93.5 461.3,93.4 461.6,94.1 462.0,93.2 462.3,93.0 462.7,93.4 463.0,93.6 463.4,93.3 463.7,92.5 464.1,91.6 464.4,93.7 464.8,93.0 465.1,93.7 465.5,92.4 465.8,95.0 466.2,92.8 466.5,92.5 466.9,95.6 467.2,92.1 467.6,91.4 467.9,92.0 468.3,92.0 468.6,91.4 469.0,91.6 469.3,92.0 469.7,92.8 470.0,94.8 470.4,91.1 470.7,92.0 471.1,90.8 471.4,90.8 471.8,92.1 472.1,92.1 472.5,91.3 472.8,91.1 473.2,91.3 473.5,91.4 473.9,91.4 474.2,90.8 474.6,91.2 474.9,90.7 475.3,91.3 475.6,92.5 476.0,88.8 476.3,90.8 476.7,90.7 477.0,90.5 477.4,89.7 477.7,90.9 478.1,90.8 478.4,90.0 478.8,90.3 479.1,90.7 479.5,89.9 479.8,90.5 480.2,89.9 480.5,89.1 480.9,89.7 481.2,90.0 481.6,89.1 481.9,90.5 482.3,89.6 482.6,90.8 483.0,89.6 483.3,88.9 483.7,89.1 484.0,90.3 484.4,89.5 484.7,89.0 485.1,89.1 485.4,92.9 485.8,88.5 486.1,89.4 486.5,88.8 486.8,89.0 487.2,89.0 487.5,88.8 487.9,91.8 488.2,88.4 488.6,88.2 488.9,89.4 489.3,87.9 489.6,88.7 490.0,88.4 490.3,89.2 490.7,88.5 491.0,88.8 491.4,88.0 491.7,88.5 492.1,88.4 492.4,88.8 492.8,87.3 493.1,88.4 493.5,88.5 493.8,88.0 494.2,88.0 494.5,87.9 494.9,86.9 495.2,86.6 495.6,87.7 495.9,87.3 496.3,88.2 496.6,87.5 497.0,87.7 497.3,87.3 497.7,87.4 498.0,87.1 498.4,87.2 498.7,87.2 499.1,87.6 499.4,87.5 499.8,87.3 500.1,86.9 500.5,86.4 500.8,86.3 500.9,109.0" stroke="#ff7f0e" stroke-opacity="0.5" stroke-width="2.5" stroke-linecap="square"/>
<polyline points="112.7,311.3 116.4,286.0 119.3,268.5 122.9,251.0 126.6,243.0 131.8,234.3 140.2,237.0 143.7,234.6 146.6,230.0 153.6,217.1 160.0,198.5 167.6,183.1 171.4,174.6 181.0,176.7 190.6,169.7 200.4,184.8 209.8,161.8 219.4,159.6 224.8,165.0 240.8,173.5 250.4,165.0 256.8,152.1 261.4,145.5 269.0,149.2 280.3,145.0 290.4,156.0 298.0,154.3 309.3,145.5 318.2,139.9 328.3,151.8 338.0,160.6 358.2,132.8" stroke="#ff7f0e" stroke-width="2.5" stroke-dasharray="15.6,3.1,2.9,3.1"/>
<polyline points="358.2,132.8 368.6,140.2 377.0,136.6 390.5,145.0 395.5,145.2 406.9,135.4 415.0,142.2 427.4,151.4" stroke="#ff7f0e" stroke-width="2.5" stroke-dasharray="15.6,3.1,2.9,3.1" stroke-dashoffset="8.4"/>
<polyline points="427.4,151.4 447.9,131.0 456.4,137.8 464.8,138.4 475.8,143.2 484.3,131.8 487.7,131.8 495.5,136.8" stroke="#ff7f0e" stroke-width="2.5" stroke-dasharray="15.6,3.1,2.9,3.1" stroke-dashoffset="20.15"/>
</g>
<rect x="83.2" y="17.1" width="437.8" height="434.4" fill="none" stroke="#000" stroke-width="1.3"/>
<g stroke="#000" stroke-width="1.3">
<line x1="103.10" y1="451.55" x2="103.10" y2="456.9"/>
<line x1="156.20" y1="451.55" x2="156.20" y2="456.9"/>
<line x1="209.30" y1="451.55" x2="209.30" y2="456.9"/>
<line x1="262.40" y1="451.55" x2="262.40" y2="456.9"/>
<line x1="315.50" y1="451.55" x2="315.50" y2="456.9"/>
<line x1="368.60" y1="451.55" x2="368.60" y2="456.9"/>
<line x1="421.70" y1="451.55" x2="421.70" y2="456.9"/>
<line x1="474.80" y1="451.55" x2="474.80" y2="456.9"/>
<line x1="83.2" y1="417.24" x2="77.8" y2="417.24"/>
<line x1="83.2" y1="360.07" x2="77.8" y2="360.07"/>
<line x1="83.2" y1="302.91" x2="77.8" y2="302.91"/>
<line x1="83.2" y1="245.75" x2="77.8" y2="245.75"/>
<line x1="83.2" y1="188.59" x2="77.8" y2="188.59"/>
<line x1="83.2" y1="131.42" x2="77.8" y2="131.42"/>
<line x1="83.2" y1="74.26" x2="77.8" y2="74.26"/>
<line x1="83.2" y1="17.10" x2="77.8" y2="17.10"/>
</g>
<g font-family="Liberation Sans, sans-serif" font-size="15.6" fill="#000" stroke="#000" stroke-width="0.25">
<text x="103.1" y="474.6" text-anchor="middle" textLength="9.7" lengthAdjust="spacingAndGlyphs">0</text>
<text x="156.2" y="474.6" text-anchor="middle" textLength="9.7" lengthAdjust="spacingAndGlyphs">2</text>
<text x="209.3" y="474.6" text-anchor="middle" textLength="9.7" lengthAdjust="spacingAndGlyphs">4</text>
<text x="262.4" y="474.6" text-anchor="middle" textLength="9.7" lengthAdjust="spacingAndGlyphs">6</text>
<text x="315.5" y="474.6" text-anchor="middle" textLength="9.7" lengthAdjust="spacingAndGlyphs">8</text>
<text x="368.6" y="474.6" text-anchor="middle" textLength="20.6" lengthAdjust="spacingAndGlyphs">10</text>
<text x="421.7" y="474.6" text-anchor="middle" textLength="20.6" lengthAdjust="spacingAndGlyphs">12</text>
<text x="474.8" y="474.6" text-anchor="middle" textLength="20.6" lengthAdjust="spacingAndGlyphs">14</text>
<text x="71.6" y="423.9" text-anchor="end" textLength="34.0" lengthAdjust="spacingAndGlyphs">12.5</text>
<text x="71.6" y="366.8" text-anchor="end" textLength="34.0" lengthAdjust="spacingAndGlyphs">15.0</text>
<text x="71.6" y="309.6" text-anchor="end" textLength="34.0" lengthAdjust="spacingAndGlyphs">17.5</text>
<text x="71.6" y="252.4" text-anchor="end" textLength="34.0" lengthAdjust="spacingAndGlyphs">20.0</text>
<text x="71.6" y="195.3" text-anchor="end" textLength="34.0" lengthAdjust="spacingAndGlyphs">22.5</text>
<text x="71.6" y="138.1" text-anchor="end" textLength="34.0" lengthAdjust="spacingAndGlyphs">25.0</text>
<text x="71.6" y="81.0" text-anchor="end" textLength="34.0" lengthAdjust="spacingAndGlyphs">27.5</text>
<text x="71.6" y="23.8" text-anchor="end" textLength="34.0" lengthAdjust="spacingAndGlyphs">30.0</text>
</g>
<g font-family="Liberation Sans, sans-serif" font-size="21.0" fill="#000" stroke="#000" stroke-width="0.4">
<text x="254.6" y="499.1" textLength="50.0" lengthAdjust="spacingAndGlyphs">Time</text>
<text x="311.6" y="499.1" textLength="37.2" lengthAdjust="spacingAndGlyphs">[hr]</text>
<text transform="translate(26.9,233.8) rotate(-90)" text-anchor="middle" font-size="22.2" stroke-width="0.55" textLength="55.2" lengthAdjust="spacingAndGlyphs">PSNR</text>
</g>
<rect x="152.5" y="312.5" width="299.3" height="129.1" rx="3.9" ry="3.9" fill="#ffffff" fill-opacity="0.8" stroke="#cccccc" stroke-opacity="0.8" stroke-width="1.5"/>
<line x1="159.2" y1="329.6" x2="202.8" y2="329.6" stroke="#1f77b4" stroke-opacity="0.5" stroke-width="2.5"/>
<line x1="160.4" y1="360.2" x2="200.9" y2="360.2" stroke="#1f77b4" stroke-opacity="1" stroke-width="2.5" stroke-dasharray="15.6,3.1,2.9,3.1"/>
<line x1="159.2" y1="390.9" x2="202.8" y2="390.9" stroke="#ff7f0e" stroke-opacity="0.5" stroke-width="2.5"/>
<line x1="160.4" y1="421.6" x2="200.9" y2="421.6" stroke="#ff7f0e" stroke-opacity="1" stroke-width="2.5" stroke-dasharray="15.6,3.1,2.9,3.1"/>
<g font-family="Liberation Sans, sans-serif" font-size="19.9" fill="#000" stroke="#000" stroke-width="0.3">
<text x="217.4" y="336.4" textLength="142.8" lengthAdjust="spacingAndGlyphs">Unregularized</text>
<text x="367.9" y="336.4" font-style="italic" stroke-width="0.6" textLength="15.2" lengthAdjust="spacingAndGlyphs">N</text>
<text x="384.1" y="339.8" font-style="italic" font-size="14.6" stroke-width="0.5" textLength="8.7" lengthAdjust="spacingAndGlyphs">B</text>
<text x="398.2" y="336.6" font-size="23.5" stroke-width="0.45" textLength="14.8" lengthAdjust="spacingAndGlyphs">=</text>
<text x="418.1" y="336.4" font-style="italic" stroke-width="0.6" textLength="15.2" lengthAdjust="spacingAndGlyphs">N</text>
<text x="434.1" y="340.0" font-style="italic" font-size="14.6" stroke-width="0.5" textLength="9.0" lengthAdjust="spacingAndGlyphs">T</text>
<text x="217.4" y="367.0" textLength="142.8" lengthAdjust="spacingAndGlyphs">Unregularized</text>
<text x="367.9" y="367.0" font-style="italic" stroke-width="0.6" textLength="15.2" lengthAdjust="spacingAndGlyphs">N</text>
<text x="384.1" y="370.4" font-style="italic" font-size="14.6" stroke-width="0.5" textLength="8.7" lengthAdjust="spacingAndGlyphs">B</text>
<text x="398.2" y="367.2" font-size="23.5" stroke-width="0.45" textLength="14.8" lengthAdjust="spacingAndGlyphs">=</text>
<text x="419.7" y="367.0" textLength="10.4" lengthAdjust="spacingAndGlyphs">1</text>
<text x="217.4" y="397.7" textLength="94.9" lengthAdjust="spacingAndGlyphs">Proposed</text>
<text x="318.9" y="397.7" font-style="italic" stroke-width="0.6" textLength="15.2" lengthAdjust="spacingAndGlyphs">N</text>
<text x="335.1" y="401.1" font-style="italic" font-size="14.6" stroke-width="0.5" textLength="8.7" lengthAdjust="spacingAndGlyphs">B</text>
<text x="349.2" y="397.9" font-size="23.5" stroke-width="0.45" textLength="14.8" lengthAdjust="spacingAndGlyphs">=</text>
<text x="369.1" y="397.7" font-style="italic" stroke-width="0.6" textLength="15.2" lengthAdjust="spacingAndGlyphs">N</text>
<text x="385.1" y="401.3" font-style="italic" font-size="14.6" stroke-width="0.5" textLength="9.0" lengthAdjust="spacingAndGlyphs">T</text>
<text x="217.4" y="428.4" textLength="94.9" lengthAdjust="spacingAndGlyphs">Proposed</text>
<text x="318.9" y="428.4" font-style="italic" stroke-width="0.6" textLength="15.2" lengthAdjust="spacingAndGlyphs">N</text>
<text x="335.1" y="431.8" font-style="italic" font-size="14.6" stroke-width="0.5" textLength="8.7" lengthAdjust="spacingAndGlyphs">B</text>
<text x="349.2" y="428.6" font-size="23.5" stroke-width="0.45" textLength="14.8" lengthAdjust="spacingAndGlyphs">=</text>
<text x="370.7" y="428.4" textLength="10.4" lengthAdjust="spacingAndGlyphs">1</text>
</g>
</svg>
</body></html>
